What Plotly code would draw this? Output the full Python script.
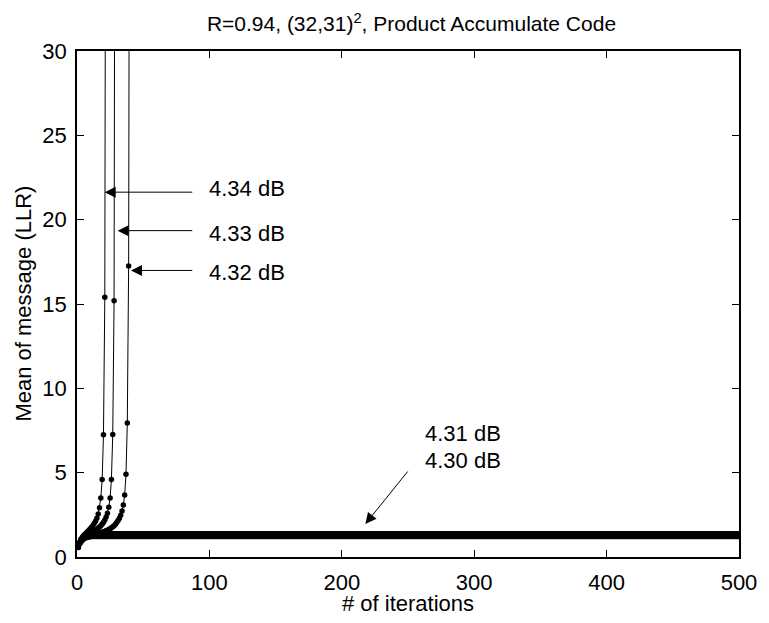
import plotly.graph_objects as go

# ---- data ----
snr_labels = ["4.34 dB", "4.33 dB", "4.32 dB", "4.31 dB", "4.30 dB"]

# 4.34 dB : diverges after iteration 21
mean_434 = [0.60, 0.88, 1.05, 1.17, 1.27, 1.35, 1.43, 1.51, 1.59, 1.67,
            1.76, 1.86, 1.98, 2.12, 2.30, 2.55, 2.92, 3.50, 4.60, 7.25,
            15.40, 60.0]
# 4.33 dB : diverges after iteration 28
mean_433 = [0.60, 0.86, 1.02, 1.12, 1.20, 1.26, 1.30, 1.34, 1.38, 1.42,
            1.46, 1.50, 1.55, 1.60, 1.65, 1.71, 1.78, 1.86, 1.95, 2.06,
            2.20, 2.37, 2.60, 2.95, 3.50, 4.60, 7.27, 15.20, 60.0]
# 4.32 dB : diverges after iteration 39
mean_432 = [0.58, 0.80, 0.94, 1.03, 1.10, 1.15, 1.19, 1.22, 1.25, 1.27,
            1.29, 1.31, 1.33, 1.35, 1.37, 1.39, 1.41, 1.43, 1.46, 1.49,
            1.52, 1.55, 1.59, 1.63, 1.68, 1.73, 1.79, 1.86, 1.94, 2.04,
            2.16, 2.30, 2.48, 2.72, 3.08, 3.68, 4.90, 7.95, 17.25, 60.0]
# 4.31 dB / 4.30 dB : converge to a fixed point (flat for 500 iterations)
mean_431_start = [0.58, 0.79, 0.93, 1.03, 1.10, 1.16, 1.21, 1.25, 1.28, 1.31,
                  1.33, 1.35, 1.36, 1.37]
mean_431_fixed = 1.38
mean_430_start = [0.57, 0.78, 0.91, 1.00, 1.06, 1.11, 1.14, 1.17, 1.19, 1.20,
                  1.21, 1.22]
mean_430_fixed = 1.22
n_iter = 500

mean_431 = mean_431_start + [mean_431_fixed] * (n_iter - len(mean_431_start))
mean_430 = mean_430_start + [mean_430_fixed] * (n_iter - len(mean_430_start))

series = [mean_434, mean_433, mean_432, mean_431, mean_430]

x_ticks = [0, 100, 200, 300, 400, 500]
y_ticks = [0, 5, 10, 15, 20, 25, 30]

FONT = "Liberation Sans, Arial, Helvetica, sans-serif"
FS = 22

fig = go.Figure()
for name, ys in zip(snr_labels, series):
    fig.add_trace(go.Scatter(
        x=list(range(1, len(ys) + 1)), y=ys, mode="lines+markers", name=name,
        line=dict(color="black", width=1),
        marker=dict(color="black", size=5.5, symbol="circle", line=dict(width=0)),
        showlegend=False,
    ))

axis_common = dict(
    showline=True, linecolor="black", linewidth=1.5, mirror="ticks",
    ticks="inside", ticklen=7, tickwidth=1, tickcolor="black",
    showgrid=False, zeroline=False,
    tickfont=dict(family=FONT, size=FS, color="black"),
)

fig.update_xaxes(range=[0, 500], tickvals=x_ticks, ticklabelstandoff=5, **axis_common)
fig.update_yaxes(range=[0, 30], tickvals=y_ticks, ticklabelstandoff=4, **axis_common)

# arrows (tail -> head) and their labels
arrows = [
    dict(hx=20.9, hy=21.63, tx=88.2, ty=21.63),
    dict(hx=30.7, hy=19.35, tx=88.2, ty=19.35),
    dict(hx=40.8, hy=16.99, tx=88.2, ty=16.99),
    dict(hx=217.8, hy=1.96, tx=250.7, ty=5.16),
]
for a in arrows:
    fig.add_annotation(x=a["hx"], y=a["hy"], ax=a["tx"], ay=a["ty"],
                       xref="x", yref="y", axref="x", ayref="y",
                       text="", showarrow=True, arrowhead=2, arrowsize=2.2,
                       arrowwidth=1, arrowcolor="black")

labels = [
    (snr_labels[0], 98.5, 21.85),
    (snr_labels[1], 98.5, 19.2),
    (snr_labels[2], 98.5, 16.85),
    (snr_labels[3], 261.5, 7.35),
    (snr_labels[4], 261.5, 5.7),
]
for txt, lx, ly in labels:
    fig.add_annotation(x=lx, y=ly, xref="x", yref="y", text=txt, showarrow=False,
                       xanchor="left", yanchor="middle",
                       font=dict(family=FONT, size=FS, color="black"))

# axis titles
fig.add_annotation(x=0.5, y=-(603 - 557) / 506, xref="paper", yref="paper",
                   text="# of iterations", showarrow=False, xanchor="center",
                   yanchor="middle", font=dict(family=FONT, size=FS, color="black"))
fig.add_annotation(x=-(77 - 22) / 669, y=0.5, xref="paper", yref="paper",
                   text="Mean of message (LLR)", showarrow=False, textangle=-90,
                   xanchor="center", yanchor="middle",
                   font=dict(family=FONT, size=FS, color="black"))

fig.update_layout(
    width=769, height=623,
    margin=dict(l=77, r=23, t=51, b=66),
    paper_bgcolor="white", plot_bgcolor="white",
    title=dict(text="R=0.94, (32,31)<sup>2</sup>, Product Accumulate Code",
               x=(77 + 746) / 2 / 769, xanchor="center",
               y=1 - 24 / 623, yanchor="middle", yref="container",
               font=dict(family=FONT, size=21, color="black")),
)

fig.write_html("out.html")
